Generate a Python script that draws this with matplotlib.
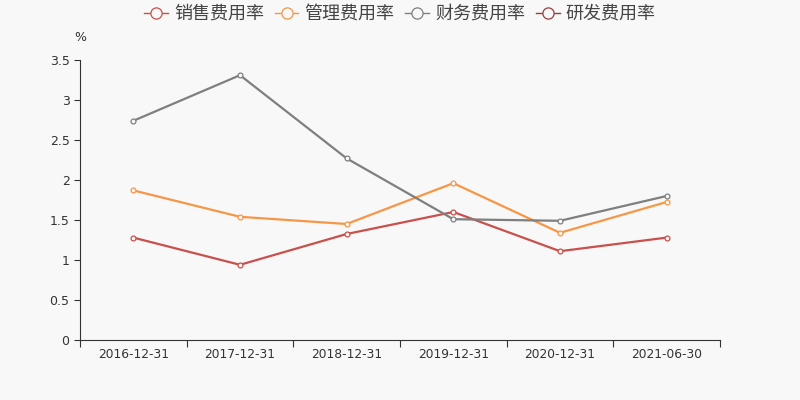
import numpy as np
import matplotlib
matplotlib.use('Agg')
import matplotlib.pyplot as plt

plt.rcParams['font.family'] = ['DejaVu Sans', 'Noto Sans CJK SC']

dates = ['2016-12-31', '2017-12-31', '2018-12-31', '2019-12-31', '2020-12-31', '2021-06-30']
sales = [1.28, 0.94, 1.325, 1.60, 1.11, 1.28]
admin = [1.87, 1.54, 1.45, 1.96, 1.34, 1.725]
finance = [2.74, 3.31, 2.27, 1.51, 1.49, 1.80]
research = [None] * 6  # no data in the reference

names = ['销售费用率', '管理费用率', '财务费用率', '研发费用率']
colors = ['#c9504c', '#f79646', '#7f7f7f', '#9b3c3c']
bg = '#f8f8f8'

fig = plt.figure(figsize=(8, 4), dpi=100, facecolor=bg)
ax = fig.add_axes([0.1, 0.15, 0.8, 0.7], facecolor=bg)

x = np.arange(len(dates))
for vals, name, c in zip([sales, admin, finance, research], names, colors):
    y = np.array([np.nan if v is None else v for v in vals], dtype=float)
    ax.plot(x, y, color=c, lw=1.6, marker='o', ms=3.5, mfc=bg, mec=c, mew=0.9, label=name)

ax.set_xlim(-0.5, len(dates) - 0.5)
ax.set_ylim(0, 3.5)
ax.set_yticks(np.arange(0, 3.51, 0.5))
ax.set_yticklabels(['0', '0.5', '1', '1.5', '2', '2.5', '3', '3.5'])
ax.set_xticks(np.arange(-0.5, len(dates), 1.0))
ax.set_xticklabels([])
ax.set_xticks(x, minor=True)
ax.set_xticklabels(dates, minor=True)
ax.tick_params(axis='x', which='major', length=5, color='#333333')
ax.tick_params(axis='x', which='minor', length=0, pad=6, labelsize=8.8, labelcolor='#333333')
ax.tick_params(axis='y', length=4, color='#333333', labelsize=9, labelcolor='#333333')
for s in ['top', 'right']:
    ax.spines[s].set_visible(False)
for s in ['left', 'bottom']:
    ax.spines[s].set_color('#333333')

ax.text(0.0, 1.079, '%', transform=ax.transAxes, ha='center', va='center', fontsize=9, color='#333333')

leg = fig.legend(loc='center', bbox_to_anchor=(0.5, 0.965), ncol=4, frameon=False,
                 prop={'family': ['Noto Sans CJK SC'], 'size': 13},
                 handlelength=1.3, columnspacing=0.6, handletextpad=0.35,
                 markerscale=2.3)
for t in leg.get_texts():
    t.set_color('#444444')
for h in leg.legend_handles:
    h.set_linewidth(1.0)

plt.savefig('out.png', dpi=100, facecolor=bg)
